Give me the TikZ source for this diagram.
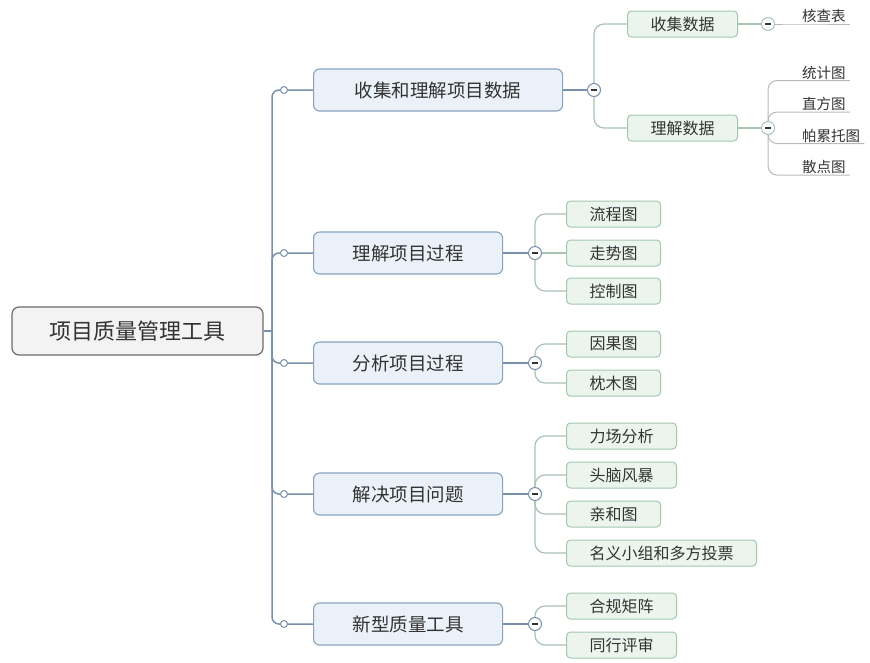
\documentclass[tikz,border=0pt]{standalone}
\usepackage{fontspec}
\setmainfont{Noto Sans CJK SC}
\usetikzlibrary{backgrounds}
\definecolor{txt}{HTML}{333333}
\definecolor{rootfill}{HTML}{F3F3F3}
\definecolor{rootline}{HTML}{6B6B6B}
\definecolor{topicfill}{HTML}{EBF1F9}
\definecolor{topicline}{HTML}{8AA2BE}
\definecolor{trunkline}{HTML}{7890AA}
\definecolor{subfill}{HTML}{EBF5EE}
\definecolor{subline}{HTML}{A3C8AE}
\definecolor{branchline}{HTML}{A9C2B2}
\definecolor{twigline}{HTML}{B8B8B8}

\begin{document}
\begin{tikzpicture}[
  x=1pt, y=-1pt,
  rootbox/.style={draw=rootline, fill=rootfill, rounded corners=7pt, line width=1.2pt,
    minimum width=251pt, minimum height=48pt, font=\fontsize{22}{22}\selectfont, text=txt},
  topicbox/.style={draw=topicline, fill=topicfill, rounded corners=6pt, line width=1.1pt,
    minimum width=189pt, minimum height=42pt, anchor=west, font=\fontsize{18.5}{18.5}\selectfont, text=txt},
  subbox/.style={draw=subline, fill=subfill, rounded corners=4pt, line width=1pt,
    minimum height=26pt, inner xsep=23pt, anchor=west, font=\fontsize{16}{16}\selectfont, text=txt},
  leaf/.style={anchor=south west, inner xsep=4pt, inner ysep=0.8pt, font=\fontsize{14.5}{14.5}\selectfont, text=txt},
  knob/.style={circle, draw=trunkline, fill=white, line width=1pt, inner sep=0pt, minimum size=7pt},
  fold/.style={circle, draw=#1, fill=white, line width=1pt, inner sep=0pt, minimum size=13pt,
    path picture={\draw[txt, line width=1.1pt] ([xshift=-3pt]path picture bounding box.center)
      -- ([xshift=3pt]path picture bounding box.center);}},
  fold/.default=trunkline,
  trunk/.style={draw=trunkline, line width=1.5pt, rounded corners=7pt},
  stem/.style={draw=trunkline, line width=1.2pt},
  branch/.style={draw=branchline, line width=1.2pt, rounded corners=10pt},
  twig/.style={draw=twigline, line width=1pt, rounded corners=9pt},
]
\useasboundingbox (0,0) rectangle (870,662);

% --- root and main topics ---
\node[rootbox] (root) at (137.5, 331) {项目质量管理工具};
\coordinate (hub) at (272, 331);
\node[topicbox, minimum width=249pt] (t1) at (313, 90) {收集和理解项目数据};
\node[topicbox] (t2) at (313, 253) {理解项目过程};
\node[topicbox] (t3) at (313, 363) {分析项目过程};
\node[topicbox] (t4) at (313, 494) {解决项目问题};
\node[topicbox] (t5) at (313, 624) {新型质量工具};
\foreach \i/\y in {1/90, 2/253, 3/363, 4/494, 5/624}
  \node[knob] (k\i) at (284, \y) {};

% --- fold markers ---
\node[fold] (f1) at (594, 90) {};
\foreach \i/\y in {2/253, 3/363, 4/494, 5/624}
  \node[fold] (f\i) at (535, \y) {};

% --- second level ---
\node[subbox] (s11) at (627, 24) {收集数据};
\node[subbox] (s12) at (627, 128) {理解数据};
\foreach \n/\y/\txt in {21/214/流程图, 22/253/走势图, 23/291/控制图,
    31/344/因果图, 32/383/枕木图,
    41/436/力场分析, 42/475/头脑风暴, 43/514/亲和图, 44/553/名义小组和多方投票,
    51/606/合规矩阵, 52/645/同行评审}
  \node[subbox] (s\n) at (566, \y) {\txt};

% --- leaves ---
\node[fold=branchline] (g11) at (768, 24) {};
\node[fold=branchline] (g12) at (768, 128) {};
\node[leaf] (l1) at (798, 24) {核查表};
\node[leaf] (l2) at (798, 80.5) {统计图};
\node[leaf] (l3) at (798, 112) {直方图};
\node[leaf] (l4) at (798, 143.5) {帕累托图};
\node[leaf] (l5) at (798, 175) {散点图};

% --- connectors ---
\begin{scope}[on background layer]
\draw[trunk] (root.east) -- (hub);
\foreach \i in {1,...,5}
  \draw[trunk] (hub) |- (t\i.west);
\foreach \i in {1,...,5}
  \draw[stem] (t\i.east) -- (f\i);
\foreach \s in {11,12}
  \draw[branch] (f1.center) |- (s\s.west);
\foreach \s in {21,23}
  \draw[branch] (f2.center) |- (s\s.west);
\draw[branch] (f2) -- (s22.west);
\foreach \s in {31,32}
  \draw[branch] (f3.center) |- (s\s.west);
\foreach \s in {41,42,43,44}
  \draw[branch] (f4.center) |- (s\s.west);
\foreach \s in {51,52}
  \draw[branch] (f5.center) |- (s\s.west);
\draw[branch] (s11.east) -- (g11);
\draw[branch] (s12.east) -- (g12);
\draw[twig] (g11) -- (l1.south west) -- (l1.south east);
\foreach \l in {2,...,5}
  \draw[twig] (g12.center) |- (l\l.south west) -- (l\l.south east);
\end{scope}

\end{tikzpicture}
\end{document}
